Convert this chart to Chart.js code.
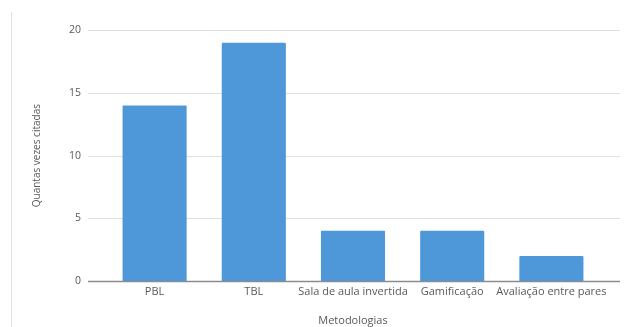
<!DOCTYPE html>
<html>
<head>
<meta charset="utf-8">
<script src="https://cdn.jsdelivr.net/npm/chart.js@4.4.0/dist/chart.umd.min.js"></script>
<style>
html,body{margin:0;padding:0;background:#fff;}
#wrap{position:relative;width:627px;height:327px;}
</style>
</head>
<body>
<div id="wrap"><canvas id="c" width="627" height="327"></canvas></div>
<script>
const categories = ["PBL", "TBL", "Sala de aula invertida", "Gamificação", "Avaliação entre pares"];
const values = [14, 19, 4, 4, 2];
const yTicks = [0, 5, 10, 15, 20];
const xTitle = "Metodologias";
const yTitle = "Quantas vezes citadas";

const FONT = "'Open Sans', 'Liberation Sans', sans-serif";
const TEXT = "#595959";

const bgPlugin = {
  id: 'bg',
  beforeDraw(chart) {
    const ctx = chart.ctx;
    ctx.save();
    ctx.fillStyle = '#fff';
    ctx.fillRect(0, 0, chart.width, chart.height);
    ctx.strokeStyle = '#e3e3e3';
    ctx.lineWidth = 1;
    ctx.beginPath();
    ctx.moveTo(11.5, 12);
    ctx.lineTo(11.5, chart.height);
    ctx.stroke();
    ctx.restore();
  },
  beforeDatasetsDraw(chart) {
    const ctx = chart.ctx;
    const y = chart.scales.y;
    ctx.save();
    y.ticks.forEach(t => {
      const py = Math.round(y.getPixelForValue(t.value)) + 0.5;
      ctx.strokeStyle = t.value === 0 ? '#8c8c8c' : '#e0e0e0';
      ctx.lineWidth = t.value === 0 ? 1.3 : 1;
      ctx.beginPath();
      ctx.moveTo(88, py);
      ctx.lineTo(620, py);
      ctx.stroke();
    });
    ctx.restore();
  }
};

new Chart(document.getElementById('c'), {
  type: 'bar',
  data: {
    labels: categories,
    datasets: [{
      data: values,
      backgroundColor: '#4e97d8',
      borderWidth: 0,
      borderRadius: 1,
      barPercentage: 0.646,
      categoryPercentage: 1.0
    }]
  },
  options: {
    responsive: false,
    animation: false,
    devicePixelRatio: 1,
    layout: { padding: { left: 12, right: 26, top: 29, bottom: 0 } },
    plugins: { legend: { display: false }, tooltip: { enabled: false } },
    scales: {
      x: {
        grid: { display: false, drawTicks: false },
        border: { display: false },
        ticks: { color: TEXT, font: { family: FONT, size: 11 }, padding: 4, maxRotation: 0, autoSkip: false },
        title: { display: true, text: xTitle, color: TEXT, font: { family: FONT, size: 11 }, padding: { top: 10, bottom: 0 } },
        afterFit(s) { s.height = 46; }
      },
      y: {
        min: 0, max: 20,
        afterBuildTicks(s) { s.ticks = yTicks.map(v => ({ value: v })); },
        grid: { display: false, drawTicks: false },
        border: { display: false },
        ticks: { color: TEXT, font: { family: FONT, size: 10.5 }, padding: 24 },
        title: { display: true, text: yTitle, color: TEXT, font: { family: FONT, size: 10 }, padding: { top: 19, bottom: 0 } },
        afterFit(s) { s.width = 93; }
      }
    }
  },
  plugins: [bgPlugin]
});
</script>
</body>
</html>
